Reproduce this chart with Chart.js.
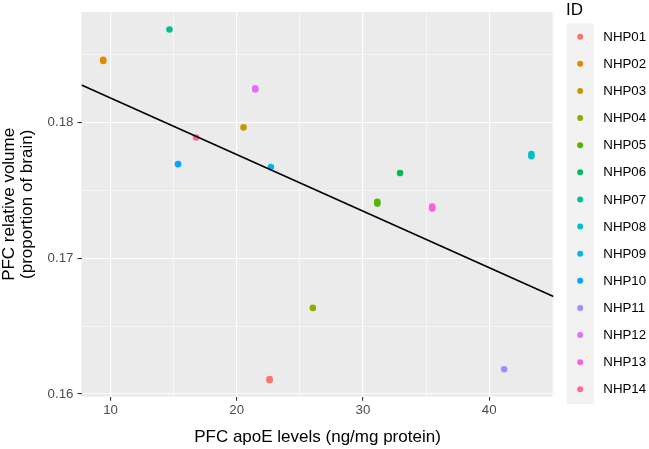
<!DOCTYPE html>
<html>
<head>
<meta charset="utf-8">
<script src="https://cdn.jsdelivr.net/npm/chart.js@4.4.1/dist/chart.umd.min.js"></script>
<style>
  html, body { margin: 0; padding: 0; background: #fff; }
  canvas { display: block; }
</style>
</head>
<body>
<canvas id="chart" width="649" height="449"></canvas>
<script>
// animal IDs and their colours (ggplot default hue palette, 14 levels)
const ids = ['NHP01', 'NHP02', 'NHP03', 'NHP04', 'NHP05', 'NHP06', 'NHP07',
  'NHP08', 'NHP09', 'NHP10', 'NHP11', 'NHP12', 'NHP13', 'NHP14'];
const idColors = ['#F8766D', '#E38900', '#C49A00', '#99A800', '#53B400', '#00BC56', '#00C094',
  '#00BFC4', '#00B6EB', '#06A4FF', '#A58AFF', '#DF70F8', '#FB61D7', '#FF66A8'];

// PFC apoE (ng/mg protein), one entry per measurement
const apoeLevels = [
  [22.6, 22.6],
  [9.42, 9.42],
  [20.54],
  [26.03],
  [31.14, 31.14],
  [32.94],
  [14.67],
  [43.35, 43.35],
  [22.71],
  [15.35],
  [41.19],
  [21.47, 21.47],
  [35.49, 35.49],
  [16.78]
];
// PFC relative volume (proportion of brain)
const relVolumes = [
  [0.16110, 0.16102],
  [0.18464, 0.18456],
  [0.17966],
  [0.16635],
  [0.17418, 0.17404],
  [0.17629],
  [0.18688],
  [0.17770, 0.17754],
  [0.17673],
  [0.17695],
  [0.16182],
  [0.18254, 0.18246],
  [0.17383, 0.17367],
  [0.17891]
];

// linear fit, drawn across the panel
const fitX = [7.7, 45.1];
const fitY = [0.18279, 0.16719];

const xTicks = [10, 15, 20, 25, 30, 35, 40, 45];
const yTicks = [0.16, 0.165, 0.17, 0.175, 0.18, 0.185];

const FONT = "'Liberation Sans', Arial, sans-serif";

function isMajor(v, step) {
  return Math.abs(v / step - Math.round(v / step)) < 1e-6;
}

const datasets = [{
  label: 'fit',
  data: fitX.map((x, i) => ({ x, y: fitY[i] })),
  showLine: true,
  borderColor: '#000',
  borderWidth: 1.6,
  pointRadius: 0,
  order: 0
}];
ids.forEach((id, i) => {
  datasets.push({
    label: id,
    data: apoeLevels[i].map((x, j) => ({ x, y: relVolumes[i][j] })),
    backgroundColor: idColors[i],
    borderWidth: 0,
    pointRadius: 3.3,
    order: 1
  });
});

const panelBg = {
  id: 'panelBg',
  beforeDraw(chart) {
    const { ctx, chartArea: a } = chart;
    ctx.save();
    ctx.fillStyle = '#EBEBEB';
    ctx.fillRect(a.left, a.top, a.right - a.left, a.bottom - a.top);
    ctx.restore();
  }
};

const idLegend = {
  id: 'idLegend',
  afterDraw(chart) {
    const ctx = chart.ctx;
    ctx.save();
    ctx.fillStyle = '#000';
    ctx.font = '17px ' + FONT;
    ctx.textAlign = 'left';
    ctx.textBaseline = 'middle';
    ctx.fillText('ID', 566, 10);

    ctx.fillStyle = '#F2F2F2';
    ctx.fillRect(566.7, 23.3, 27, 380.7);

    ctx.font = '13.3px ' + FONT;
    ids.forEach((id, i) => {
      const y = 36.7 + i * 27.12;
      ctx.fillStyle = idColors[i];
      ctx.beginPath();
      ctx.arc(580.2, y, 3, 0, Math.PI * 2);
      ctx.fill();
      ctx.fillStyle = '#000';
      ctx.fillText(id, 603.3, y + 0.5);
    });
    ctx.restore();
  }
};

new Chart(document.getElementById('chart'), {
  type: 'scatter',
  data: { datasets },
  options: {
    responsive: false,
    animation: false,
    layout: { padding: { top: 6, right: 95.5, bottom: 0, left: 0 } },
    plugins: {
      legend: { display: false },
      tooltip: { enabled: false }
    },
    scales: {
      x: {
        type: 'linear',
        min: 7.7,
        max: 45.1,
        afterBuildTicks: s => { s.ticks = xTicks.map(v => ({ value: v })); },
        afterFit: s => { s.height = 52.3; },
        border: { display: false },
        grid: {
          color: '#FFFFFF',
          lineWidth: c => isMajor(c.tick.value, 10) ? 1.1 : 0.55,
          tickColor: c => isMajor(c.tick.value, 10) ? '#333333' : 'rgba(0,0,0,0)',
          tickLength: 4,
          tickWidth: 1.1
        },
        ticks: {
          autoSkip: false,
          maxRotation: 0,
          padding: 2,
          color: '#4D4D4D',
          font: { family: FONT, size: 13.3 },
          callback: v => isMajor(v, 10) ? String(v) : ''
        },
        title: {
          display: true,
          text: 'PFC apoE levels (ng/mg protein)',
          color: '#000',
          font: { family: FONT, size: 17 },
          padding: { top: 0, bottom: 1 }
        }
      },
      y: {
        type: 'linear',
        min: 0.1598,
        max: 0.18817,
        afterBuildTicks: s => { s.ticks = yTicks.map(v => ({ value: v })); },
        afterFit: s => { s.width = 81.5; },
        border: { display: false },
        grid: {
          color: '#FFFFFF',
          lineWidth: c => isMajor(c.tick.value, 0.01) ? 1.1 : 0.55,
          tickColor: c => isMajor(c.tick.value, 0.01) ? '#333333' : 'rgba(0,0,0,0)',
          tickLength: 4,
          tickWidth: 1.1
        },
        ticks: {
          autoSkip: false,
          padding: 4,
          color: '#4D4D4D',
          font: { family: FONT, size: 13.3 },
          callback: v => isMajor(v, 0.01) ? v.toFixed(2) : ''
        },
        title: {
          display: true,
          text: ['PFC relative volume', '(proportion of brain)'],
          color: '#000',
          font: { family: FONT, size: 17, lineHeight: 1.06 },
          padding: { top: 0, bottom: 0 }
        }
      }
    }
  },
  plugins: [panelBg, idLegend]
});
</script>
</body>
</html>
